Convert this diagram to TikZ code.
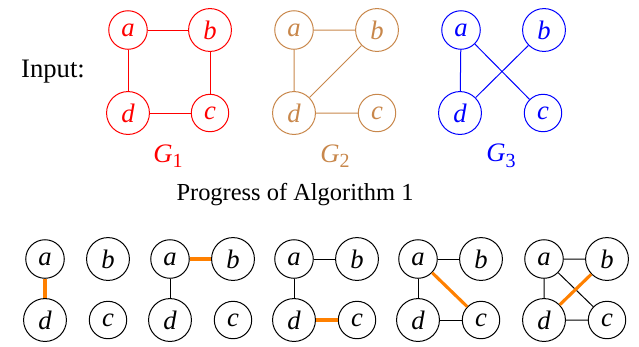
\documentclass[tikz,border=0pt]{standalone}
\usepackage{fontspec}
\setmainfont{Liberation Serif}
\definecolor{gred}{RGB}{255,0,0}
\definecolor{gbrown}{RGB}{200,135,75}
\definecolor{gblue}{RGB}{0,0,255}
\definecolor{hl}{RGB}{255,128,0}
\begin{document}
\begin{tikzpicture}[x=0.45pt,y=-0.45pt,
  vtx/.style={circle,draw,line width=0.45pt,inner sep=3.2pt,font=\fontsize{12}{14}\selectfont\itshape},
  edg/.style={line width=0.45pt},
  hot/.style={line width=1.4pt,draw=hl},
  lbl/.style={font=\fontsize{11}{13}\selectfont}]
\useasboundingbox (0,0) rectangle (639,346);
\node[lbl,font=\fontsize{12}{14}\selectfont] (inp) at (53,72) {Input:};
% G1
\begin{scope}[every node/.append style={text=gred,draw=gred}]
\node[vtx] (1a) at (128,30) {a};
\node[vtx] (1b) at (210,30) {b};
\node[vtx] (1d) at (128,113) {d};
\node[vtx] (1c) at (210,113) {c};
\draw[edg,gred] (1a)--(1b) (1b)--(1c) (1c)--(1d) (1d)--(1a);
\node[lbl,text=gred,draw=none] (g1) at (168,156) {\fontsize{12}{14}\selectfont\itshape G\raisebox{-0.45ex}{\fontsize{9}{10}\selectfont\upshape 1}};
\end{scope}
% G2
\begin{scope}[every node/.append style={text=gbrown,draw=gbrown}]
\node[vtx] (2a) at (294,30) {a};
\node[vtx] (2b) at (377,30) {b};
\node[vtx] (2d) at (294,113) {d};
\node[vtx] (2c) at (377,113) {c};
\draw[edg,gbrown] (2a)--(2b) (2a)--(2d) (2d)--(2b) (2d)--(2c);
\node[lbl,text=gbrown,draw=none] (g2) at (335,156) {\fontsize{12}{14}\selectfont\itshape G\raisebox{-0.45ex}{\fontsize{9}{10}\selectfont\upshape 2}};
\end{scope}
% G3
\begin{scope}[every node/.append style={text=gblue,draw=gblue}]
\node[vtx] (3a) at (461,30) {a};
\node[vtx] (3b) at (544,30) {b};
\node[vtx] (3d) at (460,113) {d};
\node[vtx] (3c) at (543,113) {c};
\draw[edg,gblue] (3a)--(3d) (3a)--(3c) (3b)--(3d);
\node[lbl,text=gblue,draw=none] (g3) at (501,156) {\fontsize{12}{14}\selectfont\itshape G\raisebox{-0.45ex}{\fontsize{9}{10}\selectfont\upshape 3}};
\end{scope}
\node[lbl] (prog) at (295,195) {Progress of Algorithm 1};
% bottom
\foreach \i/\x in {1/45,2/170,3/294,4/418,5/544}{
  \node[vtx] (p\i a) at (\x,259) {a};
  \node[vtx] (p\i b) at (\x+63,259) {b};
  \node[vtx] (p\i d) at (\x,320) {d};
  \node[vtx] (p\i c) at (\x+63,320) {c};
}
\draw[hot] (p1a)--(p1d);
\draw[edg] (p2a)--(p2d);
\draw[hot] (p2a)--(p2b);
\draw[edg] (p3a)--(p3b) (p3a)--(p3d);
\draw[hot] (p3d)--(p3c);
\draw[edg] (p4a)--(p4b) (p4a)--(p4d) (p4d)--(p4c);
\draw[hot] (p4a)--(p4c);
\draw[edg] (p5a)--(p5b) (p5a)--(p5d) (p5d)--(p5c) (p5a)--(p5c);
\draw[hot] (p5d)--(p5b);
\end{tikzpicture}
\end{document}
